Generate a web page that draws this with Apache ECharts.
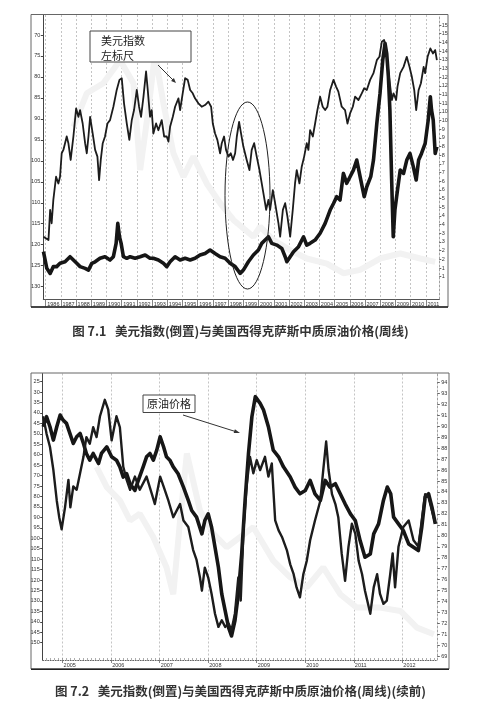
<!DOCTYPE html>
<html><head><meta charset="utf-8">
<script src="https://cdn.jsdelivr.net/npm/echarts@6/dist/echarts.min.js"></script>
<style>html,body{margin:0;padding:0;background:#fff}#c{width:480px;height:713px}</style>
</head><body><div id="c"></div><script>
// ---------- Chart 7.1 data ----------
const yearLabels1 = [1986,1987,1988,1989,1990,1991,1992,1993,1994,1995,1996,1997,1998,1999,2000,2001,2002,2003,2004,2005,2006,2007,2008,2009,2010,2011];
const usdTicks1 = [70,75,80,85,90,95,100,105,110,115,120,125,130];
const oilTicks1 = [10,15,20,25,30,35,40,45,50,55,60,65,70,75,80,85,90,95,100,105,110,115,120,125,130,135,140,145,150,155];
// 美元指数 (left axis, inverted)
const usdIndex1 = [[1985.85,118.1],[1986.18,118.9],[1986.29,111.7],[1986.39,114.9],[1986.50,109.3],[1986.68,103.8],[1986.83,105.4],[1986.94,103.8],[1987.05,98.2],[1987.16,97.4],[1987.38,94.2],[1987.49,95.8],[1987.64,99.8],[1987.82,94.2],[1988.00,87.5],[1988.15,89.5],[1988.26,87.9],[1988.43,91.1],[1988.59,95.8],[1988.70,98.2],[1988.81,94.2],[1988.92,89.5],[1989.09,93.5],[1989.25,97.4],[1989.40,99.0],[1989.51,104.6],[1989.62,99.8],[1989.75,95.8],[1989.90,94.2],[1990.06,91.1],[1990.23,90.3],[1990.45,87.1],[1990.67,83.1],[1990.85,80.7],[1991.00,80.3],[1991.15,86.3],[1991.33,91.1],[1991.50,95.0],[1991.66,90.3],[1991.81,87.9],[1991.99,83.1],[1992.14,87.1],[1992.27,89.5],[1992.43,84.7],[1992.60,78.7],[1992.71,83.1],[1992.86,89.5],[1992.97,87.9],[1993.08,93.5],[1993.26,91.1],[1993.41,92.7],[1993.63,90.3],[1993.79,94.2],[1993.96,94.2],[1994.07,95.4],[1994.18,91.9],[1994.36,89.5],[1994.51,87.1],[1994.73,85.1],[1994.84,87.9],[1995.01,83.9],[1995.17,80.3],[1995.34,80.7],[1995.50,83.1],[1995.67,83.9],[1995.82,85.1],[1996.04,86.3],[1996.26,87.1],[1996.48,86.7],[1996.70,85.9],[1996.88,87.1],[1996.99,91.1],[1997.14,93.5],[1997.29,95.0],[1997.47,98.2],[1997.58,95.8],[1997.73,94.2],[1997.86,97.4],[1998.02,99.0],[1998.17,98.2],[1998.32,99.8],[1998.46,98.2],[1998.57,94.2],[1998.72,90.7],[1998.85,93.5],[1999.00,96.6],[1999.22,99.8],[1999.40,102.2],[1999.55,97.4],[1999.71,95.8],[1999.88,99.0],[2000.06,102.2],[2000.21,105.4],[2000.36,108.6],[2000.50,111.7],[2000.65,109.3],[2000.76,111.7],[2000.94,107.0],[2001.09,110.1],[2001.31,114.9],[2001.42,118.1],[2001.60,111.7],[2001.75,110.1],[2001.90,113.3],[2002.08,118.1],[2002.25,111.7],[2002.40,105.4],[2002.51,102.2],[2002.69,105.4],[2002.84,101.4],[2003.00,99.0],[2003.17,95.8],[2003.28,97.4],[2003.39,92.7],[2003.57,94.2],[2003.72,91.1],[2003.87,87.9],[2004.05,84.7],[2004.22,87.1],[2004.38,87.9],[2004.53,87.1],[2004.71,83.1],[2004.93,80.7],[2005.10,82.3],[2005.25,83.5],[2005.47,87.1],[2005.69,87.9],[2005.85,91.1],[2006.02,88.7],[2006.20,87.1],[2006.35,84.7],[2006.57,85.5],[2006.79,83.9],[2006.95,82.7],[2007.12,83.1],[2007.34,80.7],[2007.56,79.1],[2007.78,76.0],[2007.95,75.2],[2008.11,71.6],[2008.26,71.2],[2008.39,73.6],[2008.48,76.8],[2008.61,80.7],[2008.77,85.5],[2008.88,83.9],[2009.05,85.5],[2009.14,82.3],[2009.32,79.1],[2009.54,77.6],[2009.75,75.2],[2009.93,77.6],[2010.08,79.9],[2010.24,83.1],[2010.37,87.9],[2010.53,83.1],[2010.68,81.5],[2010.86,77.6],[2010.96,79.1],[2011.12,75.2],[2011.30,73.2],[2011.47,74.4],[2011.62,73.6],[2011.73,76.0]];
// 原油价格 (right axis)
const oilPrice1 = [[1985.85,24.4],[1986.07,14.8],[1986.29,11.9],[1986.50,15.8],[1986.72,15.8],[1986.94,17.7],[1987.27,18.6],[1987.60,21.5],[1987.82,19.6],[1988.04,17.7],[1988.26,15.8],[1988.59,14.8],[1988.81,13.8],[1989.03,17.7],[1989.25,18.6],[1989.57,20.6],[1989.90,21.5],[1990.23,19.6],[1990.45,21.5],[1990.63,29.2],[1990.74,40.7],[1990.85,33.0],[1990.96,29.2],[1991.11,21.5],[1991.33,20.6],[1991.55,21.5],[1991.88,20.6],[1992.21,21.5],[1992.54,22.5],[1992.86,20.6],[1993.08,20.6],[1993.41,19.6],[1993.74,17.7],[1993.96,15.8],[1994.18,18.6],[1994.51,21.5],[1994.84,19.6],[1995.17,20.6],[1995.50,19.6],[1995.82,20.6],[1996.15,22.5],[1996.48,23.4],[1996.81,25.4],[1997.14,23.4],[1997.47,21.5],[1997.80,20.6],[1998.13,17.7],[1998.46,15.8],[1998.79,11.9],[1999.00,13.8],[1999.33,18.6],[1999.66,22.5],[1999.99,25.4],[2000.21,29.2],[2000.43,31.1],[2000.65,33.0],[2000.87,29.2],[2001.20,28.2],[2001.53,26.3],[2001.75,21.5],[2001.86,18.6],[2002.08,21.5],[2002.30,24.4],[2002.63,27.3],[2002.96,33.0],[2003.17,28.2],[2003.39,29.2],[2003.72,31.1],[2004.05,35.0],[2004.38,40.7],[2004.71,48.4],[2004.93,52.2],[2005.14,56.1],[2005.36,54.2],[2005.58,69.5],[2005.80,63.8],[2006.02,67.6],[2006.24,71.4],[2006.46,77.2],[2006.68,67.6],[2006.95,56.1],[2007.12,61.8],[2007.38,67.6],[2007.56,77.2],[2007.78,98.3],[2007.99,115.6],[2008.17,134.8],[2008.32,144.4],[2008.43,138.6],[2008.54,125.2],[2008.64,106.0],[2008.75,67.6],[2008.86,33.0],[2008.97,48.4],[2009.14,59.9],[2009.32,71.4],[2009.54,69.5],[2009.75,77.2],[2009.96,81.0],[2010.18,73.4],[2010.37,65.7],[2010.53,77.2],[2010.72,81.0],[2010.96,86.8],[2011.16,100.2],[2011.30,113.7],[2011.38,106.0],[2011.49,100.2],[2011.62,81.0],[2011.73,84.9]];
// faint show-through from the reverse page (left axis scale)
const showThrough1 = [[1987.82,91.9],[1988.70,83.9],[1989.79,81.5],[1990.89,76.0],[1991.77,81.5],[1992.21,102.2],[1992.75,87.9],[1993.19,74.4],[1993.74,86.3],[1994.40,98.2],[1995.06,103.8],[1995.71,99.0],[1996.59,105.4],[1997.47,110.1],[1998.35,114.1],[1999.66,118.1],[2000.10,115.7],[2000.98,118.9],[2002.08,121.3],[2003.17,123.3],[2004.49,124.5],[2005.58,126.8],[2006.68,126.0],[2007.99,123.3],[2009.32,122.1],[2010.64,123.3],[2011.62,124.1]];

// ---------- Chart 7.2 data ----------
const yearLabels2 = [2005,2006,2007,2008,2009,2010,2011,2012];
const oilTicks2 = [25,30,35,40,45,50,55,60,65,70,75,80,85,90,95,100,105,110,115,120,125,130,135,140,145,150];
const usdTicks2 = [69,70,71,72,73,74,75,76,77,78,79,80,81,82,83,84,85,86,87,88,89,90,91,92,93,94];
// 原油价格 (left axis, inverted)
const oilPrice2 = [[2004.60,46.6],[2004.67,41.8],[2004.74,46.6],[2004.81,53.0],[2004.88,46.6],[2004.95,41.0],[2005.01,43.4],[2005.08,45.0],[2005.15,49.8],[2005.22,54.6],[2005.29,51.4],[2005.36,49.8],[2005.43,54.6],[2005.49,59.4],[2005.56,62.6],[2005.63,59.4],[2005.74,64.2],[2005.80,59.4],[2005.91,56.2],[2006.01,61.0],[2006.11,62.6],[2006.18,65.8],[2006.25,70.7],[2006.32,69.1],[2006.39,73.9],[2006.49,77.1],[2006.56,72.3],[2006.66,65.8],[2006.73,61.0],[2006.80,59.4],[2006.87,62.6],[2006.94,57.8],[2007.01,51.4],[2007.08,56.2],[2007.14,61.0],[2007.21,62.6],[2007.28,65.8],[2007.38,69.1],[2007.49,75.5],[2007.59,81.9],[2007.66,86.7],[2007.76,89.9],[2007.87,97.9],[2007.93,91.5],[2008.00,88.3],[2008.07,94.7],[2008.14,104.3],[2008.21,113.9],[2008.28,126.8],[2008.35,134.8],[2008.42,142.8],[2008.48,146.8],[2008.55,139.6],[2008.62,126.8],[2008.69,107.5],[2008.76,81.9],[2008.83,59.4],[2008.90,41.8],[2008.97,32.2],[2009.07,35.4],[2009.14,38.6],[2009.24,46.6],[2009.34,57.8],[2009.45,61.0],[2009.55,65.8],[2009.69,70.7],[2009.79,75.5],[2009.89,78.7],[2010.00,77.1],[2010.10,72.3],[2010.20,78.7],[2010.31,81.9],[2010.41,72.3],[2010.51,75.5],[2010.62,73.9],[2010.72,78.7],[2010.82,83.5],[2010.93,88.3],[2011.03,91.5],[2011.13,101.1],[2011.23,109.1],[2011.34,107.5],[2011.41,97.9],[2011.51,93.1],[2011.61,81.9],[2011.69,75.5],[2011.76,78.7],[2011.82,89.9],[2011.92,93.1],[2012.02,96.3],[2012.13,102.7],[2012.23,104.3],[2012.33,105.9],[2012.40,94.7],[2012.47,80.3],[2012.54,78.7],[2012.61,85.1],[2012.68,93.1]];
// 美元指数 (right axis)
const usdIndex2 = [[2004.60,90.9],[2004.67,89.3],[2004.74,88.1],[2004.81,86.0],[2004.88,83.2],[2004.93,81.7],[2004.98,80.6],[2005.05,82.6],[2005.12,85.1],[2005.16,82.6],[2005.22,84.5],[2005.29,84.2],[2005.36,85.7],[2005.43,87.2],[2005.49,89.0],[2005.56,88.4],[2005.63,89.9],[2005.70,89.0],[2005.77,90.9],[2005.87,92.4],[2005.94,91.5],[2006.01,88.7],[2006.11,90.9],[2006.18,89.9],[2006.25,86.3],[2006.32,85.1],[2006.39,84.2],[2006.49,85.4],[2006.59,84.2],[2006.73,85.4],[2006.84,83.8],[2006.90,82.9],[2007.01,85.4],[2007.08,84.5],[2007.18,83.2],[2007.28,81.7],[2007.35,82.3],[2007.42,82.9],[2007.49,81.4],[2007.59,80.8],[2007.69,78.7],[2007.76,77.8],[2007.83,76.2],[2007.87,75.0],[2007.93,77.1],[2008.00,76.2],[2008.07,74.7],[2008.14,72.9],[2008.21,71.7],[2008.28,72.3],[2008.35,71.7],[2008.42,72.0],[2008.48,71.4],[2008.55,72.9],[2008.62,76.2],[2008.67,74.1],[2008.73,80.8],[2008.79,84.5],[2008.86,87.2],[2008.93,85.7],[2009.00,86.9],[2009.07,86.0],[2009.17,87.2],[2009.24,85.4],[2009.31,86.6],[2009.38,81.4],[2009.45,80.5],[2009.52,79.9],[2009.62,78.7],[2009.69,77.4],[2009.76,76.5],[2009.82,75.3],[2009.89,74.4],[2009.96,76.5],[2010.03,77.7],[2010.10,79.6],[2010.20,81.4],[2010.31,83.2],[2010.37,86.0],[2010.43,88.6],[2010.48,86.0],[2010.55,83.8],[2010.62,82.9],[2010.68,81.7],[2010.75,78.4],[2010.82,75.9],[2010.89,79.0],[2010.96,81.1],[2011.03,80.2],[2011.10,77.7],[2011.17,76.5],[2011.23,75.0],[2011.34,72.9],[2011.41,75.3],[2011.48,76.5],[2011.54,74.7],[2011.61,73.8],[2011.68,74.1],[2011.75,76.5],[2011.80,78.4],[2011.85,75.3],[2011.92,79.0],[2012.02,80.8],[2012.13,81.4],[2012.23,79.6],[2012.33,79.0],[2012.40,81.4],[2012.47,83.8],[2012.54,83.5],[2012.61,82.3],[2012.68,81.1]];
const showThrough2 = [[2005.70,65.8],[2005.91,75.5],[2006.18,81.9],[2006.39,91.5],[2006.59,88.3],[2006.87,99.5],[2007.14,113.9],[2007.28,126.8],[2007.42,91.5],[2007.56,59.4],[2007.83,86.7],[2008.11,97.9],[2008.38,104.3],[2008.93,94.7],[2009.34,110.7],[2009.69,118.7],[2010.03,123.5],[2010.37,113.9],[2010.72,126.8],[2011.06,133.2],[2011.54,133.2],[2011.96,134.8],[2012.30,142.8],[2012.65,146.0]];

// month tick marks along the 7.2 time strip (axis decoration)
const monthTicks2 = [];
for (let m = Math.ceil(2004.59 * 12); m / 12 <= 2012.72; m++) monthTicks2.push(m / 12);

const chart = echarts.init(document.getElementById('c'), null, {renderer:'canvas'});
const TXT = '#333';
const tinyFont = {fontSize:5.5, color:TXT, fontFamily:'Liberation Sans'};
const truncLabel = v => { const s = String(v); return s.slice(0, s.length - 1); };

const option = {
  backgroundColor:'#fff',
  animation:false,
  grid:[
    {left:43.3, top:15, right:40.7, height:284, containLabel:false},
    {left:42.7, top:373.5, right:42.7, height:286.5, containLabel:false}
  ],
  xAxis:[
    {gridIndex:0, type:'value', min:1985.84, max:2011.89,
      axisLine:{show:true, onZero:false, lineStyle:{color:'#555', width:1}},
      axisTick:{show:true, customValues:yearLabels1.concat([yearLabels1[yearLabels1.length-1]+1]), length:8, lineStyle:{color:'#666', width:0.8}},
      axisLabel:Object.assign({customValues:yearLabels1.map(y=>y+0.5), formatter:v=>String(Math.floor(v)), margin:2}, tinyFont),
      splitLine:{show:true, lineStyle:{type:[2,2], color:'#b5b5b5', width:0.8}}},
    {gridIndex:1, type:'value', min:2004.59, max:2012.72,
      axisLine:{show:true, onZero:false, lineStyle:{color:'#666', width:1, type:[1,1.5]}},
      axisTick:{show:true, customValues:yearLabels2, length:3, lineStyle:{color:'#666', width:0.8}},
      axisLabel:Object.assign({customValues:yearLabels2, formatter:v=>String(v), align:'left', padding:[0,0,0,1], margin:2}, tinyFont),
      splitLine:{show:true, lineStyle:{type:[2,2], color:'#b5b5b5', width:0.8}}},
    {gridIndex:1, type:'value', min:2004.59, max:2012.72, position:'bottom',
      axisLine:{show:false, onZero:false},
      axisTick:{show:true, inside:true, customValues:monthTicks2, length:2, lineStyle:{color:'#777', width:0.6}},
      axisLabel:{show:false}, splitLine:{show:false}}
  ],
  yAxis:[
    {gridIndex:0, type:'value', position:'left', inverse:true, min:65.23, max:132.95,
      axisLine:{show:true, lineStyle:{color:'#444', width:1}},
      axisTick:{show:true, customValues:usdTicks1, length:2.5, lineStyle:{color:'#444'}},
      axisLabel:Object.assign({customValues:usdTicks1, margin:3}, tinyFont),
      splitLine:{show:false}},
    {gridIndex:0, type:'value', position:'right', min:-2.85, max:160.76,
      axisLine:{show:true, lineStyle:{color:'#888', width:0.8, type:[2,2]}},
      axisTick:{show:true, customValues:oilTicks1, length:2, lineStyle:{color:'#666'}},
      axisLabel:Object.assign({customValues:oilTicks1, formatter:truncLabel, margin:2.5}, tinyFont),
      splitLine:{show:false}},
    {gridIndex:1, type:'value', position:'left', inverse:true, min:21.1, max:158.3,
      axisLine:{show:true, lineStyle:{color:'#444', width:1}},
      axisTick:{show:true, customValues:oilTicks2, length:2.5, lineStyle:{color:'#444'}},
      axisLabel:Object.assign({customValues:oilTicks2, margin:3}, tinyFont),
      splitLine:{show:false}},
    {gridIndex:1, type:'value', position:'right', min:68.68, max:94.8,
      axisLine:{show:true, lineStyle:{color:'#888', width:0.8, type:[2,2]}},
      axisTick:{show:true, customValues:usdTicks2, length:2.5, lineStyle:{color:'#666'}},
      axisLabel:Object.assign({customValues:usdTicks2, margin:4}, tinyFont),
      splitLine:{show:false}}
  ],
  series:[
    {name:'透印1', type:'line', xAxisIndex:0, yAxisIndex:0, data:showThrough1, showSymbol:false, silent:true, z:1,
      lineStyle:{color:'#f2f2f2', width:6}},
    {name:'原油价格', type:'line', xAxisIndex:0, yAxisIndex:1, data:oilPrice1, showSymbol:false, z:3,
      lineStyle:{color:'#161616', width:3.6, join:'round'}},
    {name:'美元指数', type:'line', xAxisIndex:0, yAxisIndex:0, data:usdIndex1, showSymbol:false, z:4,
      lineStyle:{color:'#1c1c1c', width:1.8, join:'round'}},
    {name:'透印2', type:'line', xAxisIndex:1, yAxisIndex:2, data:showThrough2, showSymbol:false, silent:true, z:1,
      lineStyle:{color:'#f2f2f2', width:6}},
    {name:'原油价格', type:'line', xAxisIndex:1, yAxisIndex:2, data:oilPrice2, showSymbol:false, z:3,
      lineStyle:{color:'#161616', width:3.6, join:'round'}},
    {name:'美元指数', type:'line', xAxisIndex:1, yAxisIndex:3, data:usdIndex2, showSymbol:false, z:4,
      lineStyle:{color:'#1c1c1c', width:2.4, join:'round'}}
  ],
  graphic:[
    // frames
    {type:'rect', shape:{x:31, y:14.5, width:417, height:292.5}, style:{fill:'none', stroke:'#666', lineWidth:1}, z:10},
    {type:'line', shape:{x1:31, y1:307, x2:448, y2:307}, style:{stroke:'#222', lineWidth:1.6}, z:10},
    {type:'rect', shape:{x:31, y:373, width:418, height:296}, style:{fill:'none', stroke:'#666', lineWidth:1}, z:10},
    {type:'line', shape:{x1:31, y1:669.3, x2:449, y2:669.3}, style:{stroke:'#222', lineWidth:1.6}, z:10},
    // annotation chart 1
    {type:'rect', shape:{x:90, y:31, width:101, height:31}, style:{fill:'#fff', stroke:'#444', lineWidth:1}, z:20},
    {type:'text', style:{x:101, y:34, text:'美元指数\n左标尺', font:'11px "Noto Sans CJK SC"', fill:'#222', lineHeight:14.5}, z:21},
    {type:'line', shape:{x1:158, y1:65, x2:173, y2:80}, style:{stroke:'#333', lineWidth:1}, z:20},
    {type:'polygon', shape:{points:[[176,83],[171.1,80.9],[173.9,78.1]]}, style:{fill:'#333'}, z:20},
    {type:'ellipse', shape:{cx:247.5, cy:195.5, rx:22.5, ry:93.5}, style:{fill:'none', stroke:'#222', lineWidth:1}, z:20},
    // annotation chart 2
    {type:'rect', shape:{x:143, y:395, width:52, height:17.5}, style:{fill:'#fff', stroke:'#444', lineWidth:1}, z:20},
    {type:'text', style:{x:169, y:403.8, text:'原油价格', font:'11px "Noto Sans CJK SC"', fill:'#222', align:'center', verticalAlign:'middle'}, z:21},
    {type:'line', shape:{x1:183, y1:415, x2:235, y2:431.4}, style:{stroke:'#333', lineWidth:1}, z:20},
    {type:'polygon', shape:{points:[[240,433],[233.7,433.1],[234.9,429.3]]}, style:{fill:'#333'}, z:20},
    // captions
    {type:'text', style:{x:240.5, y:331.7, text:'图 7.1   美元指数(倒置)与美国西得克萨斯中质原油价格(周线)', font:'bold 12.5px "Noto Sans CJK SC"', fill:'#333', align:'center', verticalAlign:'middle'}, z:20},
    {type:'text', style:{x:240.5, y:691.7, text:'图 7.2   美元指数(倒置)与美国西得克萨斯中质原油价格(周线)(续前)', font:'bold 12.5px "Noto Sans CJK SC"', fill:'#333', align:'center', verticalAlign:'middle'}, z:20}
  ]
};
chart.setOption(option);
</script></body></html>
